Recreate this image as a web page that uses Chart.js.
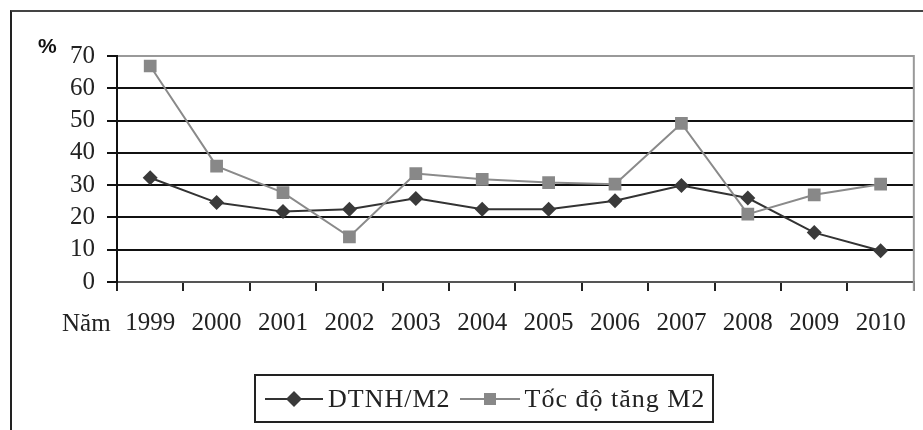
<!DOCTYPE html>
<html>
<head>
<meta charset="utf-8">
<script src="https://cdn.jsdelivr.net/npm/chart.js@4"></script>
<style>
  body { margin: 0; background: #fff; }
  #wrap { position: relative; width: 923px; height: 430px; overflow: hidden; font-family: "Liberation Serif", serif; color: #222; }
  #frame { position: absolute; left: 10px; top: 10px; right: -4px; bottom: -4px; border-top: 2px solid #444; border-left: 2px solid #222; }
  #pct { position: absolute; left: 38px; top: 34px; font: bold 21px "Liberation Sans", sans-serif; color: #111; }
  #nam { position: absolute; left: 62px; top: 308px; font-size: 25px; line-height: 30px; }
  #legend { position: absolute; left: 254px; top: 374px; width: 456px; height: 45px; border: 2px solid #222; display: flex; align-items: center; font-size: 26px; letter-spacing: 1px; }
  .item { display: flex; align-items: center; }
  .item svg { margin: 0 5px 0 9px; }
  canvas { position: absolute; left: 0; top: 0; }
</style>
</head>
<body>
<div id="wrap">
  <div id="frame"></div>
  <canvas id="chart" width="923" height="430"></canvas>
  <span id="pct">%</span>
  <span id="nam">Năm</span>
  <div id="legend">
    <span class="item">
      <svg width="58" height="20"><line x1="0" y1="10" x2="58" y2="10" stroke="#333" stroke-width="2"/><path d="M29 2 L37 10 L29 18 L21 10 Z" fill="#3a3a3a"/></svg>DTNH/M2
    </span>
    <span class="item">
      <svg width="60" height="20"><line x1="0" y1="10" x2="60" y2="10" stroke="#888" stroke-width="2"/><rect x="24" y="4" width="12" height="12" fill="#888"/></svg>Tốc độ tăng M2
    </span>
  </div>
</div>
<script>
const years = ["1999", "2000", "2001", "2002", "2003", "2004", "2005", "2006", "2007", "2008", "2009", "2010"];
const dtnhM2 = [32.3, 24.6, 21.8, 22.5, 25.9, 22.5, 22.5, 25.2, 29.9, 26.0, 15.3, 9.7];
const tocDoTangM2 = [66.9, 35.9, 27.7, 14.0, 33.6, 31.8, 30.8, 30.3, 49.1, 21.0, 27.0, 30.3];
const yMin = 0;
const yMax = 70;
const yStep = 10;

const serif = "'Liberation Serif', serif";

// gray border on the right side of the plot
const rightBorder = {
    id: "rightBorder",
    afterDatasetsDraw(chart) {
        const { ctx, chartArea } = chart;
        ctx.save();
        ctx.strokeStyle = "#999";
        ctx.lineWidth = 2;
        ctx.beginPath();
        ctx.moveTo(chartArea.right, chartArea.top - 1);
        ctx.lineTo(chartArea.right, chartArea.bottom + 9);
        ctx.stroke();
        ctx.restore();
    }
};

new Chart("chart", {
    type: "line",
    data: {
        labels: years,
        datasets: [{
            label: "Tốc độ tăng M2",
            data: tocDoTangM2,
            borderColor: "#8a8a8a",
            backgroundColor: "#888",
            borderWidth: 2,
            pointStyle: "rect",
            pointRadius: 9,
            pointBorderWidth: 0,
            tension: 0,
            fill: false
        }, {
            label: "DTNH/M2",
            data: dtnhM2,
            borderColor: "#333",
            backgroundColor: "#3a3a3a",
            borderWidth: 2,
            pointStyle: "rectRot",
            pointRadius: 7.5,
            pointBorderWidth: 0,
            tension: 0,
            fill: false
        }]
    },
    options: {
        responsive: false,
        animation: false,
        layout: { padding: { top: 56, right: 9, bottom: 88, left: 0 } },
        plugins: {
            legend: { display: false },
            tooltip: { enabled: false }
        },
        scales: {
            x: {
                offset: true,
                afterFit: (s) => { s.height = 60; },
                grid: { offset: true, drawOnChartArea: false, tickLength: 9, tickColor: "#222", lineWidth: 2 },
                border: { color: "#555", width: 2 },
                ticks: { font: { family: serif, size: 25 }, color: "#222", padding: 17, maxRotation: 0, autoSkip: false }
            },
            y: {
                min: yMin,
                max: yMax,
                afterFit: (s) => { s.width = 117; },
                grid: {
                    color: (c) => c.tick && c.tick.value === yMax ? "#999" : (c.tick && c.tick.value === yMin ? "#555" : "#111"),
                    tickColor: "#111",
                    lineWidth: 2,
                    tickLength: 10
                },
                border: { color: "#111", width: 2 },
                ticks: { stepSize: yStep, autoSkip: false, font: { family: serif, size: 25 }, color: "#222", padding: 12 }
            }
        }
    },
    plugins: [rightBorder]
});
</script>
</body>
</html>
